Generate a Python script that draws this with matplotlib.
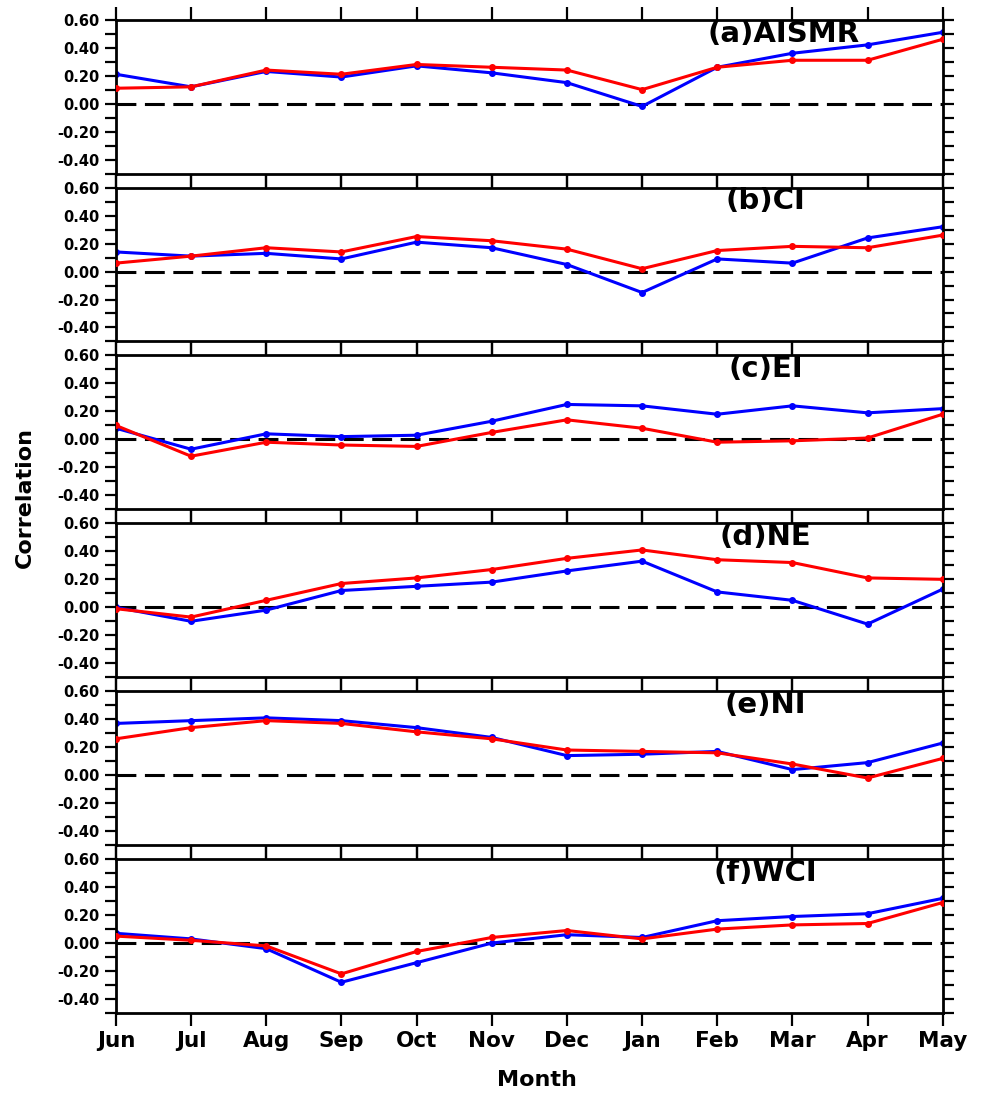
import numpy as np
import matplotlib
matplotlib.use("Agg")
import matplotlib.pyplot as plt
from matplotlib.ticker import MultipleLocator, FormatStrFormatter

months = ["Jun", "Jul", "Aug", "Sep", "Oct", "Nov", "Dec", "Jan", "Feb", "Mar", "Apr", "May"]
titles = ["(a)AISMR", "(b)CI", "(c)EI", "(d)NE", "(e)NI", "(f)WCI"]

blue_a = [0.21, 0.12, 0.23, 0.19, 0.27, 0.22, 0.15, -0.02, 0.26, 0.36, 0.42, 0.51]
red_a = [0.11, 0.12, 0.24, 0.21, 0.28, 0.26, 0.24, 0.10, 0.26, 0.31, 0.31, 0.46]
blue_b = [0.14, 0.11, 0.13, 0.09, 0.21, 0.17, 0.05, -0.15, 0.09, 0.06, 0.24, 0.32]
red_b = [0.06, 0.11, 0.17, 0.14, 0.25, 0.22, 0.16, 0.02, 0.15, 0.18, 0.17, 0.26]
blue_c = [0.08, -0.07, 0.04, 0.02, 0.03, 0.13, 0.25, 0.24, 0.18, 0.24, 0.19, 0.22]
red_c = [0.10, -0.12, -0.02, -0.04, -0.05, 0.05, 0.14, 0.08, -0.02, -0.01, 0.01, 0.18]
blue_d = [0.00, -0.10, -0.02, 0.12, 0.15, 0.18, 0.26, 0.33, 0.11, 0.05, -0.12, 0.13]
red_d = [-0.01, -0.07, 0.05, 0.17, 0.21, 0.27, 0.35, 0.41, 0.34, 0.32, 0.21, 0.20]
blue_e = [0.37, 0.39, 0.41, 0.39, 0.34, 0.27, 0.14, 0.15, 0.17, 0.04, 0.09, 0.23]
red_e = [0.26, 0.34, 0.39, 0.37, 0.31, 0.26, 0.18, 0.17, 0.16, 0.08, -0.02, 0.12]
blue_f = [0.07, 0.03, -0.04, -0.28, -0.14, 0.00, 0.06, 0.04, 0.16, 0.19, 0.21, 0.32]
red_f = [0.05, 0.02, -0.02, -0.22, -0.06, 0.04, 0.09, 0.03, 0.10, 0.13, 0.14, 0.29]

blues = [blue_a, blue_b, blue_c, blue_d, blue_e, blue_f]
reds = [red_a, red_b, red_c, red_d, red_e, red_f]
title_x = [0.807, 0.786, 0.786, 0.786, 0.786, 0.786]

x = np.arange(len(months))

fig, axes = plt.subplots(6, 1, figsize=(9.82, 10.94), dpi=100, sharex=True)
fig.subplots_adjust(left=0.118, right=0.960, top=0.982, bottom=0.074, hspace=0.091)

for i, ax in enumerate(axes):
    ax.axhline(0, color="black", lw=2.2, ls=(0, (6.5, 2.8)), zorder=1)
    ax.plot(x, blues[i], color="blue", lw=2.2, marker="o", ms=4, zorder=2)
    ax.plot(x, reds[i], color="red", lw=2.2, marker="o", ms=4, zorder=3)
    ax.set_xlim(0, 11)
    ax.set_ylim(-0.5, 0.6)
    ax.set_yticks(np.arange(-0.4, 0.61, 0.2))
    ax.yaxis.set_minor_locator(MultipleLocator(0.1))
    ax.yaxis.set_major_formatter(FormatStrFormatter("%.2f"))
    for s in ax.spines.values():
        s.set_linewidth(2)
    ax.tick_params(axis="y", which="both", direction="out", length=8, width=1.6,
                   left=True, right=True, labelsize=10.5)
    ax.tick_params(axis="x", which="both", direction="out", length=9.5, width=1.6,
                   top=True, bottom=True, labelsize=15.5)
    for lab in ax.get_yticklabels():
        lab.set_fontweight("bold")
    ax.text(title_x[i], 0.91, titles[i], transform=ax.transAxes, ha="center",
            va="center", fontsize=21, fontweight="bold")

axes[-1].set_xticks(x)
axes[-1].set_xticklabels(months, fontweight="bold")

fig.text(25 / 982, 1 - 497 / 1094, "Correlation", rotation=90, ha="center",
         va="center", fontsize=16, fontweight="bold")
fig.text(537 / 982, 1 - 1080 / 1094, "Month", ha="center", va="center",
         fontsize=16, fontweight="bold")

fig.savefig("out.png", dpi=100)
